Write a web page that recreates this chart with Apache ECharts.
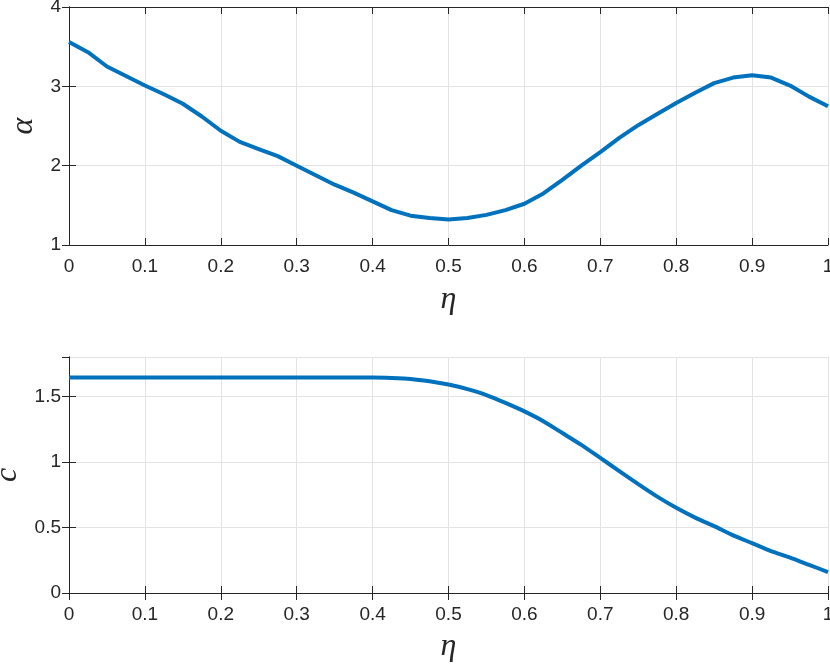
<!DOCTYPE html>
<html>
<head>
<meta charset="utf-8">
<script src="https://cdn.jsdelivr.net/npm/echarts@6/dist/echarts.min.js"></script>
<style>
	html, body { margin: 0; padding: 0; background: #fff; }
	#chart { width: 830px; height: 667px; }
</style>
</head>
<body>
<div id="chart"></div>
<script>
//Data (eta step 0.025)
let etaValues = [
	0, 0.025, 0.05, 0.075, 0.1, 0.125, 0.15, 0.175, 0.2, 0.225,
	0.25, 0.275, 0.3, 0.325, 0.35, 0.375, 0.4, 0.425, 0.45, 0.475,
	0.5, 0.525, 0.55, 0.575, 0.6, 0.625, 0.65, 0.675, 0.7, 0.725,
	0.75, 0.775, 0.8, 0.825, 0.85, 0.875, 0.9, 0.925, 0.95, 0.975, 1
];
let alphaValues = [
	3.56, 3.43, 3.25, 3.13, 3.01, 2.90, 2.78, 2.62, 2.44, 2.30,
	2.21, 2.12, 2.00, 1.88, 1.76, 1.66, 1.55, 1.44, 1.37, 1.34,
	1.32, 1.34, 1.38, 1.44, 1.52, 1.65, 1.82, 2.00, 2.17, 2.35,
	2.51, 2.65, 2.79, 2.92, 3.04, 3.11, 3.14, 3.11, 3.01, 2.87, 2.75
];
let cValues = [
	1.643, 1.643, 1.643, 1.643, 1.643, 1.643, 1.643, 1.643, 1.643, 1.643,
	1.643, 1.643, 1.643, 1.643, 1.643, 1.643, 1.643, 1.640, 1.633, 1.615,
	1.59, 1.555, 1.51, 1.45, 1.385, 1.31, 1.22, 1.13, 1.03, 0.93,
	0.83, 0.735, 0.65, 0.575, 0.51, 0.44, 0.38, 0.32, 0.27, 0.215, 0.16
];
let xTicks = [0, 1, 0.1];      // min, max, step
let alphaTicks = [1, 4, 1];
let cTicks = [0, 1.8, 0.5];

let lineColor = '#0072BD';
let axisColor = '#262626';
let gridColor = '#e3e3e3';
let sansFont = 'Liberation Sans';
let serifFont = 'Liberation Serif';

function pairs(xs, ys) {
	let out = [];
	for (let i = 0; i < xs.length; i++) {
		out.push([xs[i], ys[i]]);
	}
	return out;
}

//is max a whole number of steps from min? (float safe)
function onStep(ticks) {
	let n = (ticks[1] - ticks[0]) / ticks[2];
	return Math.abs(n - Math.round(n)) < 1e-6;
}

//Main axis with labels + grid lines
function mainAxis(grid, ticks, pos, name, nameGap) {
	return {
		type: 'value',
		gridIndex: grid,
		position: pos,
		min: ticks[0],
		max: ticks[1],
		interval: ticks[2],
		name: name,
		nameLocation: 'middle',
		nameGap: nameGap,
		nameRotate: pos === 'left' ? 90 : 0,
		nameTextStyle: { fontFamily: serifFont, fontStyle: 'italic', fontSize: 32, color: axisColor },
		axisLine: { show: true, lineStyle: { color: axisColor, width: 1 } },
		axisTick: { show: true, inside: true, length: 7, lineStyle: { color: axisColor } },
		axisLabel: {
			color: axisColor, fontFamily: sansFont, fontSize: 19,
			margin: pos === 'left' ? 8 : 12,
			showMaxLabel: onStep(ticks)
		},
		splitLine: { show: true, lineStyle: { color: gridColor, width: 1 } }
	};
}

//Opposite box side: ticks only
function boxAxis(grid, ticks, pos) {
	return {
		type: 'value',
		gridIndex: grid,
		position: pos,
		min: ticks[0],
		max: ticks[1],
		interval: ticks[2],
		axisLine: { show: true, lineStyle: { color: axisColor, width: 1 } },
		axisTick: { show: true, inside: true, length: 7, lineStyle: { color: axisColor } },
		axisLabel: { show: false },
		splitLine: { show: false }
	};
}

let chart = echarts.init(document.getElementById('chart'), null, { renderer: 'canvas' });
chart.setOption({
	animation: false,
	backgroundColor: '#fff',
	grid: [
		{ left: 69, top: 7, width: 759, height: 238, outerBoundsMode: 'none', containLabel: false },
		{ left: 69, top: 357, width: 759, height: 236, outerBoundsMode: 'none', containLabel: false }
	],
	xAxis: [
		mainAxis(0, xTicks, 'bottom', 'η', 39),
		boxAxis(0, xTicks, 'top'),
		mainAxis(1, xTicks, 'bottom', 'η', 38),
		boxAxis(1, xTicks, 'top')
	],
	yAxis: [
		mainAxis(0, alphaTicks, 'left', 'α', 26),
		boxAxis(0, alphaTicks, 'right'),
		mainAxis(1, cTicks, 'left', 'c', 44),
		boxAxis(1, cTicks, 'right')
	],
	series: [
		{
			type: 'line', xAxisIndex: 0, yAxisIndex: 0,
			data: pairs(etaValues, alphaValues),
			showSymbol: false, lineStyle: { color: lineColor, width: 4 }
		},
		{
			type: 'line', xAxisIndex: 2, yAxisIndex: 2,
			data: pairs(etaValues, cValues),
			showSymbol: false, smooth: 0.2, lineStyle: { color: lineColor, width: 4 }
		}
	]
});
</script>
</body>
</html>
